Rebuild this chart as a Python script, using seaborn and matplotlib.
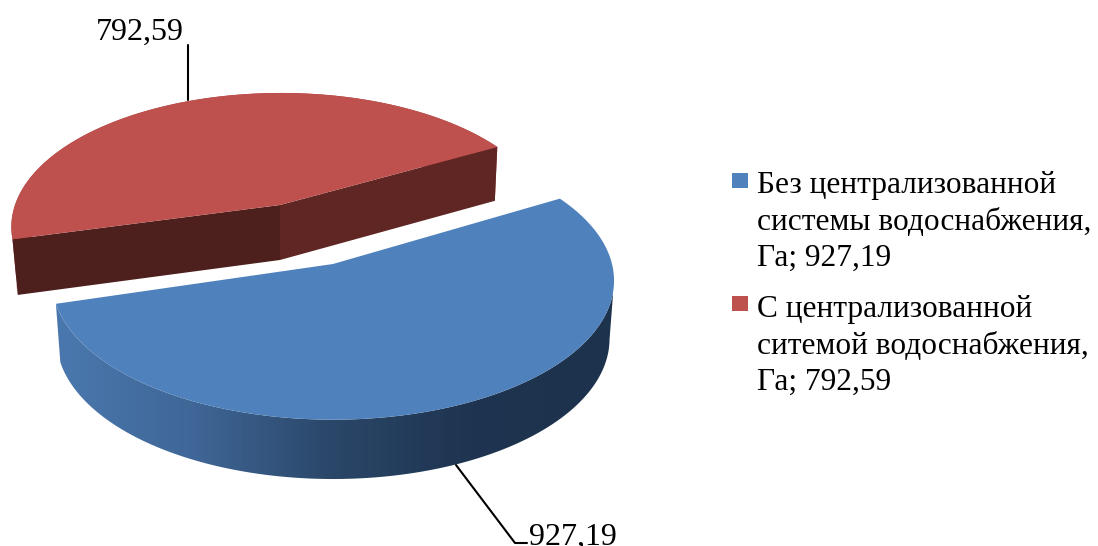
import numpy as np
import matplotlib.pyplot as plt
import seaborn as sns
from matplotlib.patches import Polygon

categories = ["Без централизованной\nсистемы водоснабжения,\nГа; 927,19",
              "С централизованной\nситемой водоснабжения,\nГа; 792,59"]
values = [927.19, 792.59]
value_labels = ["927,19", "792,59"]
top_colors = ["#4F81BD", "#BE504D"]

sns.set_theme(style="white")
plt.rcParams["font.family"] = ["Liberation Serif", "DejaVu Serif"]

W, H = 1098, 546
fig, ax = plt.subplots(figsize=(W / 100, H / 100), dpi=100)
ax.set_position([0, 0, 1, 1])
ax.axis("off")

sweeps = np.array(values) / sum(values) * 360


def project(cx, cy, a, b, k, theta, depth):
    # круг в перспективе, depth>0 - нижняя грань
    X = np.cos(theta)
    Y = np.sin(theta)
    w = 1 + k * Y
    s = 1 - 0.016 * (depth > 0)
    return cx + s * a * X / w, cy + depth / np.sqrt(w) - s * b * Y / w


# синий сектор
cx, cy, a, b, k = 333, 264, 279, 137, 0.12
t = np.radians(np.linspace(30.4, 30.4 - sweeps[0], 300))
xt, yt = project(cx, cy, a, b, k, t, 0)
xb, yb = project(cx, cy, a, b, k, t, 58)
front = np.sin(t) < -k
wall = Polygon(np.r_[np.c_[xt, yt][front], np.c_[xb, yb][front][::-1]], fc="none", ec="none")
ax.add_patch(wall)
grad = sns.blend_palette(["#4A78AE", "#3F6696", "#2A4668", "#1E3450", "#1D324C"], 300)
img = ax.imshow(np.array(grad)[None, :, :], extent=[55, 613, 490, 280], aspect="auto", zorder=1)
img.set_clip_path(wall)
ax.add_patch(Polygon(np.r_[[[cx, cy]], np.c_[xt, yt]], fc=top_colors[0], ec="none", zorder=2))

# красный сектор
cx, cy, a, b, k = 280, 205, 266, 130.4, 0.164
t = np.radians(np.linspace(28.7, 28.7 + sweeps[1], 300))
xt, yt = project(cx, cy, a, b, k, t, 0)
xb, yb = project(cx, cy, a, b, k, t, 55)
xt, xb = xt + 1, xb + 2
ax.add_patch(Polygon(np.r_[np.c_[xt, yt], np.c_[xb, yb][::-1]], fc="#A84542", ec="none", zorder=2))
for j, shade in [(0, "#5F2623"), (-1, "#4D1F1D")]:
    ax.add_patch(Polygon([(cx, cy), (xt[j], yt[j]), (xb[j], yb[j]), (cx, cy + 55)],
                         fc=shade, ec="none", zorder=2))
ax.add_patch(Polygon(np.r_[[[cx, cy]], np.c_[xt, yt]], fc=top_colors[1], ec="none", zorder=2))

# выноски
ax.plot([188, 188], [45, 100], color="black", lw=1.5, zorder=1)
ax.plot([456, 515, 527], [465, 543, 543], color="black", lw=1.5, zorder=1)
ax.text(96, 40, value_labels[1], fontsize=23, color="black", va="baseline", ha="left")
ax.text(529, 545, value_labels[0], fontsize=23, color="black", va="baseline", ha="left")

# легенда
for lab, col, ym, yt0 in zip(categories, top_colors, [180.5, 303.5], [222, 346]):
    ax.add_patch(Polygon([(732, ym - 7.5), (748, ym - 7.5), (748, ym + 7.5), (732, ym + 7.5)],
                         fc=col, ec="none"))
    ax.text(757, yt0, lab, fontsize=22.6, color="black", va="center", ha="left", linespacing=1.34)

ax.set_xlim(0, W)
ax.set_ylim(H, 0)
fig.savefig("out.png", dpi=100)
